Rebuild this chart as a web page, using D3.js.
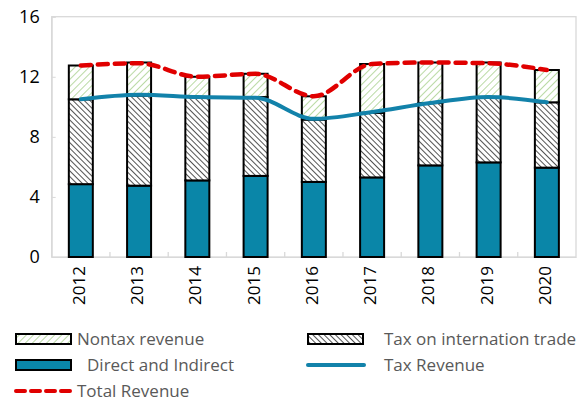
<!DOCTYPE html>
<html><head><meta charset="utf-8">
<script src="https://cdn.jsdelivr.net/npm/d3@7"></script>
<style>body{margin:0;background:#fff}svg{display:block}text{font-family:"Open Sans","Noto Sans",sans-serif}</style>
</head><body>
<script>
const years = ["2012","2013","2014","2015","2016","2017","2018","2019","2020"];
const directIndirect = [4.85,4.75,5.1,5.4,5.0,5.3,6.1,6.3,5.95];
const tradeTax = [5.65,6.0,5.55,5.25,4.15,4.3,4.15,4.3,4.35];
const nontaxRevenue = [2.25,2.2,1.35,1.55,1.55,3.25,2.7,2.35,2.15];
const taxRevenue = [10.5,10.8,10.65,10.6,9.2,9.65,10.25,10.65,10.3];
const totalRevenue = [12.75,12.9,12.0,12.2,10.7,12.85,12.95,12.9,12.45];
const yTicks = [0,4,8,12,16];

const W=588,H=406;
const svg=d3.select("body").append("svg").attr("width",W).attr("height",H);
const defs=svg.append("defs");
const pg=defs.append("pattern").attr("id","pGreen").attr("patternUnits","userSpaceOnUse").attr("width",5).attr("height",5).attr("patternTransform","rotate(45)");
pg.append("rect").attr("width",5).attr("height",5).attr("fill","#fff");
pg.append("line").attr("x1",0).attr("y1",0).attr("x2",0).attr("y2",5).attr("stroke","#a9d18e").attr("stroke-width",1.6);
const pd=defs.append("pattern").attr("id","pDark").attr("patternUnits","userSpaceOnUse").attr("width",4).attr("height",4).attr("patternTransform","rotate(-45)");
pd.append("rect").attr("width",4).attr("height",4).attr("fill","#fff");
pd.append("line").attr("x1",0).attr("y1",0).attr("x2",0).attr("y2",4).attr("stroke","#4a4a4a").attr("stroke-width",1.9);

const L=51.7,R=576,T=16.7,B=257;
const x=d3.scaleBand().domain(years).range([L,R]).padding(0);
const y=d3.scaleLinear().domain([0,16]).range([B,T]);
const bw=24;

svg.append("rect").attr("x",L).attr("y",T).attr("width",R-L).attr("height",B-T).attr("fill","none").attr("stroke","#d9d9d9").attr("stroke-width",1.3);

const ya=svg.append("g").attr("transform",`translate(${L},0)`).call(d3.axisLeft(y).tickValues(yTicks).tickSize(-4).tickPadding(12).tickFormat(d3.format("d")));
ya.select(".domain").attr("stroke","#d9d9d9");
ya.selectAll(".tick line").attr("stroke","#d9d9d9");
ya.selectAll("text").attr("font-size",18).attr("fill","#000");

const xa=svg.append("g").attr("transform",`translate(0,${B})`).call(d3.axisBottom(x).tickSize(0).tickPadding(0));
xa.select(".domain").attr("stroke","#d9d9d9");
xa.selectAll("text").attr("font-size",17).attr("fill","#000").attr("text-anchor","end")
  .attr("transform","translate(-2,9) rotate(-90)").attr("dy","0.35em").attr("x",0).attr("y",0);
svg.append("g").selectAll("line").data(years.slice(1)).join("line")
  .attr("x1",d=>x(d)).attr("x2",d=>x(d)).attr("y1",B).attr("y2",B-5).attr("stroke","#d9d9d9").attr("stroke-width",1.3);

const stack=years.map((yr,i)=>{
  const a=directIndirect[i],b=a+tradeTax[i],c=b+nontaxRevenue[i];
  return {yr,segs:[[0,a,"#0a86a8"],[a,b,"url(#pDark)"],[b,c,"url(#pGreen)"]]};
});
const g=svg.append("g");
stack.forEach(s=>{
  const cx=x(s.yr)+x.bandwidth()/2;
  s.segs.forEach(([a,b,f])=>{
    g.append("rect").attr("x",cx-bw/2).attr("y",y(b)).attr("width",bw).attr("height",y(a)-y(b))
     .attr("fill",f).attr("stroke","#000").attr("stroke-width",2);
  });
});

const cx=(d,i)=>x(years[i])+x.bandwidth()/2;
const line=d3.line().x(cx).y(d=>y(d)).curve(d3.curveMonotoneX);
svg.append("path").attr("d",line(taxRevenue)).attr("fill","none").attr("stroke","#1282aa").attr("stroke-width",4).attr("stroke-linecap","round");
svg.append("path").attr("d",line(totalRevenue)).attr("fill","none").attr("stroke","#e00000").attr("stroke-width",4.5).attr("stroke-dasharray","10,7").attr("stroke-linecap","round");

const lg=svg.append("g");
const items=[
  {t:"Nontax revenue",type:"rect",f:"url(#pGreen)",x:16,y:339,tx:77},
  {t:"Tax on internation trade",type:"rect",f:"url(#pDark)",x:308,y:339,tx:384},
  {t:"Direct and Indirect",type:"rect",f:"#0a86a8",x:16,y:365,tx:87},
  {t:"Tax Revenue",type:"line",c:"#1282aa",x:308,y:365,tx:384},
  {t:"Total Revenue",type:"dash",c:"#e00000",x:16,y:391,tx:77}
];
items.forEach(it=>{
  if(it.type==="rect") lg.append("rect").attr("x",it.x).attr("y",it.y-5).attr("width",55).attr("height",10).attr("fill",it.f).attr("stroke","#000").attr("stroke-width",2);
  else if(it.type==="line") lg.append("line").attr("x1",it.x).attr("x2",it.x+56).attr("y1",it.y).attr("y2",it.y).attr("stroke",it.c).attr("stroke-width",4).attr("stroke-linecap","round");
  else lg.append("line").attr("x1",it.x).attr("x2",it.x+56).attr("y1",it.y).attr("y2",it.y).attr("stroke",it.c).attr("stroke-width",4).attr("stroke-dasharray","9,6").attr("stroke-linecap","round");
  lg.append("text").attr("x",it.tx).attr("y",it.y).attr("dy","0.35em").attr("font-size",17).attr("fill","#595959").text(it.t);
});
</script>
</body></html>
